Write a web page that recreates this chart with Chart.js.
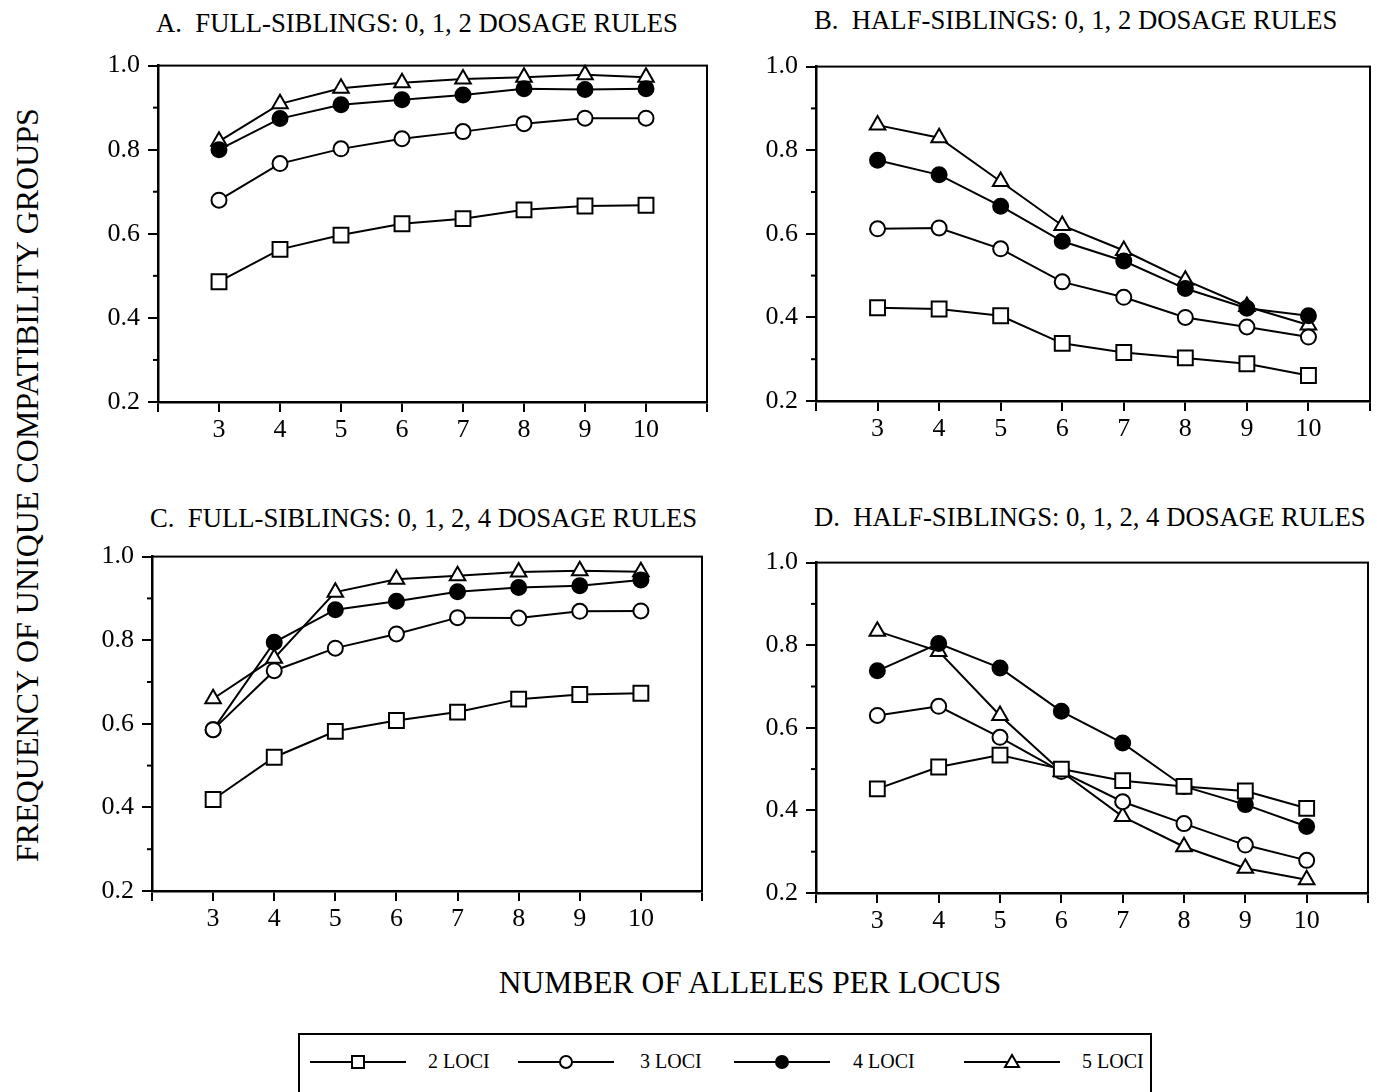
<!DOCTYPE html>
<html>
<head>
<meta charset="utf-8">
<script src="https://cdn.jsdelivr.net/npm/chart.js@4.4.1/dist/chart.umd.min.js"></script>
<style>
body { margin: 0; background: #fff; overflow: hidden; }
#page { position: relative; width: 1386px; height: 1092px; background: #fff; color: #000;
        font-family: "Liberation Serif", "Times New Roman", serif; overflow: hidden; }
.panel { position: absolute; }
.title { position: absolute; font-size: 26.7px; line-height: 1; white-space: pre; }
#xtitle { position: absolute; left: 0; width: 1500px; text-align: center; font-size: 31.5px; line-height: 1; }
#ytitle { position: absolute; width: 900px; height: 32px; font-size: 32px; line-height: 32px; text-align: center;
          white-space: nowrap; transform: rotate(-90deg); }
#legend { position: absolute; left: 298px; top: 1033px; width: 850px; height: 90px; border: 2px solid #000; }
.lg-mark { position: absolute; }
.lg-text { position: absolute; font-size: 20px; line-height: 1; white-space: nowrap; }
</style>
</head>
<body>
<div id="page">
  <div id="ytitle">FREQUENCY OF UNIQUE COMPATIBILITY GROUPS</div>
  <div id="xtitle">NUMBER OF ALLELES PER LOCUS</div>
  <div id="legend"></div>
</div>
<script>
'use strict';

// number of alleles per locus (x values)
var alleles = [3, 4, 5, 6, 7, 8, 9, 10];
var seriesNames = ['2 LOCI', '3 LOCI', '4 LOCI', '5 LOCI'];
var yTicks = [0.2, 0.4, 0.6, 0.8, 1.0];
var xTicks = [3, 4, 5, 6, 7, 8, 9, 10];

// A. full-siblings, 0,1,2 dosage rules
var fullA_2 = [0.486, 0.563, 0.597, 0.624, 0.636, 0.657, 0.666, 0.668];
var fullA_3 = [0.680, 0.767, 0.802, 0.826, 0.843, 0.862, 0.875, 0.875];
var fullA_4 = [0.800, 0.874, 0.907, 0.919, 0.930, 0.945, 0.943, 0.945];
var fullA_5 = [0.820, 0.909, 0.946, 0.959, 0.968, 0.972, 0.978, 0.972];

// B. half-siblings, 0,1,2 dosage rules
var halfB_2 = [0.423, 0.420, 0.404, 0.338, 0.316, 0.303, 0.289, 0.261];
var halfB_3 = [0.612, 0.614, 0.564, 0.485, 0.448, 0.400, 0.377, 0.353];
var halfB_4 = [0.776, 0.741, 0.666, 0.582, 0.535, 0.469, 0.422, 0.404];
var halfB_5 = [0.860, 0.830, 0.725, 0.620, 0.560, 0.489, 0.426, 0.382];

// C. full-siblings, 0,1,2,4 dosage rules
var fullC_2 = [0.419, 0.520, 0.582, 0.608, 0.628, 0.659, 0.670, 0.673];
var fullC_3 = [0.586, 0.727, 0.781, 0.815, 0.854, 0.853, 0.869, 0.870];
var fullC_4 = [0.586, 0.795, 0.873, 0.893, 0.916, 0.926, 0.930, 0.944];
var fullC_5 = [0.660, 0.757, 0.915, 0.946, 0.954, 0.963, 0.966, 0.964];

// D. half-siblings, 0,1,2,4 dosage rules
var halfD_2 = [0.452, 0.505, 0.534, 0.500, 0.472, 0.458, 0.447, 0.405];
var halfD_3 = [0.630, 0.652, 0.577, 0.494, 0.421, 0.368, 0.316, 0.279];
var halfD_4 = [0.738, 0.804, 0.745, 0.640, 0.563, 0.458, 0.414, 0.361];
var halfD_5 = [0.834, 0.785, 0.630, 0.494, 0.385, 0.312, 0.260, 0.232];

Chart.defaults.font.family = '"Liberation Serif", "Times New Roman", serif';
Chart.defaults.color = '#000';

// marker look per series: open square, open circle, filled circle, open triangle
var markers = [
	{ style: 'rect', radius: 10.5, fill: '#fff' },
	{ style: 'circle', radius: 7.5, fill: '#fff' },
	{ style: 'circle', radius: 7.5, fill: '#000' },
	{ style: 'triangle', radius: 9, fill: '#fff' }
];

var panels = [
	{ title: 'A.  FULL-SIBLINGS: 0, 1, 2 DOSAGE RULES', titleTop: 10, box: [158, 62, 707, 402],
	  data: [fullA_2, fullA_3, fullA_4, fullA_5] },
	{ title: 'B.  HALF-SIBLINGS: 0, 1, 2 DOSAGE RULES', titleTop: 7, box: [816, 63, 1370, 401],
	  data: [halfB_2, halfB_3, halfB_4, halfB_5] },
	{ title: 'C.  FULL-SIBLINGS: 0, 1, 2, 4 DOSAGE RULES', titleTop: 505, box: [152, 553, 702, 891],
	  data: [fullC_2, fullC_3, fullC_4, fullC_5] },
	{ title: 'D.  HALF-SIBLINGS: 0, 1, 2, 4 DOSAGE RULES', titleTop: 504, box: [816, 559, 1368, 893],
	  data: [halfD_2, halfD_3, halfD_4, halfD_5] }
];

var PAD_L = 100, PAD_T = 20, PAD_R = 15, PAD_B = 60;

// box around the plot + short minor ticks between the labelled ones
var framePlugin = {
	id: 'frame',
	afterDraw: function (chart) {
		var ctx = chart.ctx, a = chart.chartArea, y = chart.scales.y;
		ctx.save();
		ctx.strokeStyle = '#000';
		ctx.lineWidth = 2;
		ctx.strokeRect(a.left, a.top, a.right - a.left, a.bottom - a.top);
		for (var i = 0; i < yTicks.length - 1; i++) {
			var py = y.getPixelForValue((yTicks[i] + yTicks[i + 1]) / 2);
			ctx.beginPath();
			ctx.moveTo(a.left - 5, py);
			ctx.lineTo(a.left, py);
			ctx.stroke();
		}
		ctx.restore();
	}
};

var page = document.getElementById('page');

panels.forEach(function (p) {
	var L = p.box[0], T = p.box[1], R = p.box[2], B = p.box[3];

	var t = document.createElement('div');
	t.className = 'title';
	t.style.left = (L - 2) + 'px';
	t.style.top = p.titleTop + 'px';
	t.textContent = p.title;
	page.appendChild(t);

	var holder = document.createElement('div');
	holder.className = 'panel';
	holder.style.left = (L - PAD_L) + 'px';
	holder.style.top = (T - PAD_T) + 'px';
	holder.style.width = (R - L + PAD_L + PAD_R) + 'px';
	holder.style.height = (B - T + PAD_T + PAD_B) + 'px';
	var canvas = document.createElement('canvas');
	holder.appendChild(canvas);
	page.appendChild(holder);

	var datasets = p.data.map(function (vals, i) {
		return {
			label: seriesNames[i],
			data: alleles.map(function (a, k) { return { x: a, y: vals[k] }; }),
			borderColor: '#000',
			borderWidth: 2,
			pointStyle: markers[i].style,
			pointRadius: markers[i].radius,
			pointBackgroundColor: markers[i].fill,
			pointBorderColor: '#000',
			pointBorderWidth: 2,
			tension: 0,
			clip: false
		};
	});

	new Chart(canvas, {
		type: 'line',
		data: { datasets: datasets },
		options: {
			responsive: true,
			maintainAspectRatio: false,
			animation: false,
			events: [],
			layout: { padding: { left: 0, top: PAD_T, right: PAD_R, bottom: 0 } },
			plugins: { legend: { display: false }, tooltip: { enabled: false } },
			scales: {
				x: {
					type: 'linear', min: 2, max: 11,
					afterFit: function (s) { s.height = PAD_B; },
					afterBuildTicks: function (s) {
						s.ticks = [2].concat(xTicks, [11]).map(function (v) { return { value: v }; });
					},
					ticks: {
						font: { size: 26 }, padding: 3, maxRotation: 0, autoSkip: false,
						callback: function (v) { return xTicks.indexOf(v) >= 0 ? String(v) : ''; }
					},
					grid: { drawOnChartArea: false, drawTicks: true, tickLength: 10, color: '#000', lineWidth: 2 },
					border: { display: true, color: '#000', width: 2.5 }
				},
				y: {
					type: 'linear', min: 0.2, max: 1.0,
					afterFit: function (s) { s.width = PAD_L; },
					afterBuildTicks: function (s) {
						s.ticks = yTicks.map(function (v) { return { value: v }; });
					},
					ticks: {
						font: { size: 26 }, padding: 8,
						callback: function (v) { return v.toFixed(1); }
					},
					grid: { drawOnChartArea: false, drawTicks: true, tickLength: 10, color: '#000', lineWidth: 2 },
					border: { display: true, color: '#000', width: 2.5 }
				}
			}
		},
		plugins: [framePlugin]
	});
});

// axis titles
var xt = document.getElementById('xtitle');
xt.style.left = '0px';
xt.style.top = '967px';
var yt = document.getElementById('ytitle');
yt.style.left = (27 - 450) + 'px';
yt.style.top = (485 - 16) + 'px';

// legend row
var legend = document.getElementById('legend');
var markX = [358, 566, 782, 1012];
var textX = [428, 640, 853, 1082];
var LEG_Y = 1062;
seriesNames.forEach(function (name, i) {
	var c = document.createElement('canvas');
	c.width = 110; c.height = 30;
	c.className = 'lg-mark';
	c.style.left = (markX[i] - 55 - 300) + 'px';
	c.style.top = (LEG_Y - 15 - 1035) + 'px';
	legend.appendChild(c);
	var g = c.getContext('2d');
	g.strokeStyle = '#000';
	g.lineWidth = 2;
	g.beginPath(); g.moveTo(7, 15); g.lineTo(103, 15); g.stroke();
	g.fillStyle = markers[i].fill;
	g.beginPath();
	if (markers[i].style === 'rect') {
		g.rect(55 - 6, 15 - 6, 12, 12);
	} else if (markers[i].style === 'circle') {
		g.arc(55, 15, 6, 0, Math.PI * 2);
	} else {
		g.moveTo(55, 8); g.lineTo(62, 20); g.lineTo(48, 20); g.closePath();
	}
	g.fill(); g.stroke();

	var s = document.createElement('span');
	s.className = 'lg-text';
	s.style.left = (textX[i] - 300) + 'px';
	s.style.top = (LEG_Y - 11 - 1035) + 'px';
	s.textContent = name;
	legend.appendChild(s);
});
</script>
</body>
</html>
